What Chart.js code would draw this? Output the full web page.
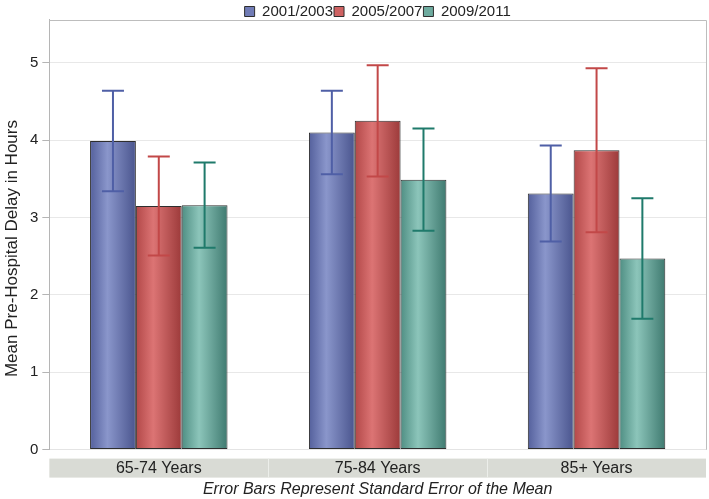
<!DOCTYPE html>
<html>
<head>
<meta charset="utf-8">
<script src="https://cdn.jsdelivr.net/npm/chart.js@4"></script>
<style>
  body { margin: 0; background: #fff; }
  canvas { display: block; }
</style>
</head>
<body>
<canvas id="delayChart" width="709" height="499"></canvas>
<script>
// Data
const categories = ["65-74 Years", "75-84 Years", "85+ Years"];
const periods = ["2001/2003", "2005/2007", "2009/2011"];
const mean2001 = [3.99, 4.10, 3.31];
const mean2005 = [3.15, 4.25, 3.87];
const mean2009 = [3.16, 3.49, 2.47];
const se2001 = [0.65, 0.54, 0.62];
const se2005 = [0.64, 0.72, 1.06];
const se2009 = [0.55, 0.66, 0.78];
const yTicks = [0, 1, 2, 3, 4, 5];
const yTitle = "Mean Pre-Hospital Delay in Hours";

const FONT = "'Liberation Sans', Arial, sans-serif";

// colours: mid, gradient stops, error bar
const styles = [
    { mid: "#717cb6", stops: ["#54609c", "#8a96cb", "#4a558e"], err: "#4f5fa6" },
    { mid: "#cf6262", stops: ["#b24848", "#dc7474", "#9c3a3a"], err: "#c24848" },
    { mid: "#6eab9f", stops: ["#4f8e83", "#8cc5ba", "#3f7a70"], err: "#1f7a6b" }
];
const errors = [se2001, se2005, se2009];

// shaded bars: gradient across each bar
const shadePlugin = {
    id: "shade",
    beforeDatasetsDraw(chart) {
        const ctx = chart.ctx;
        chart.data.datasets.forEach((ds, i) => {
            const meta = chart.getDatasetMeta(i);
            const st = styles[i];
            meta.data.forEach(el => {
                const left = el.x - el.width / 2;
                const g = ctx.createLinearGradient(left, 0, left + el.width, 0);
                g.addColorStop(0, st.stops[0]);
                g.addColorStop(0.38, st.stops[1]);
                g.addColorStop(1, st.stops[2]);
                el.options = Object.assign({}, el.options, { backgroundColor: g });
            });
        });
    }
};

// error bars, frame, category band and y title
const BAND_GAP = 9, BAND_H = 19;
const extrasPlugin = {
    id: "extras",
    beforeDraw(chart) {
        const { ctx, chartArea, scales } = chart;
        const x = scales.x;
        const top = chartArea.bottom + BAND_GAP;
        ctx.save();
        ctx.fillStyle = "#d9dbd5";
        ctx.fillRect(x.left, top, x.right - x.left, BAND_H);
        ctx.strokeStyle = "#eceeea";
        ctx.lineWidth = 1;
        const w = (x.right - x.left) / categories.length;
        for (let i = 1; i < categories.length; i++) {
            const px = Math.round(x.left + w * i) + 0.5;
            ctx.beginPath();
            ctx.moveTo(px, top);
            ctx.lineTo(px, top + BAND_H);
            ctx.stroke();
        }
        ctx.restore();
    },
    afterDatasetsDraw(chart) {
        const { ctx, chartArea, scales } = chart;
        const y = scales.y;
        ctx.save();
        chart.data.datasets.forEach((ds, i) => {
            const meta = chart.getDatasetMeta(i);
            ctx.strokeStyle = styles[i].err;
            ctx.lineWidth = 2;
            meta.data.forEach((el, j) => {
                const v = ds.data[j];
                const e = errors[i][j];
                const yHi = y.getPixelForValue(v + e);
                const yLo = y.getPixelForValue(v - e);
                ctx.beginPath();
                ctx.moveTo(el.x, yHi);
                ctx.lineTo(el.x, yLo);
                ctx.moveTo(el.x - 11, yHi);
                ctx.lineTo(el.x + 11, yHi);
                ctx.moveTo(el.x - 11, yLo);
                ctx.lineTo(el.x + 11, yLo);
                ctx.stroke();
            });
        });
        // frame top and right
        ctx.strokeStyle = "#bdbdbd";
        ctx.lineWidth = 1;
        ctx.beginPath();
        ctx.moveTo(chartArea.left, Math.round(chartArea.top) + 0.5);
        ctx.lineTo(Math.round(chartArea.right) + 0.5, Math.round(chartArea.top) + 0.5);
        ctx.lineTo(Math.round(chartArea.right) + 0.5, chartArea.bottom);
        ctx.stroke();
        ctx.restore();
    },
    afterDraw(chart) {
        // y title centred on plot frame incl. the category band
        const { ctx, chartArea } = chart;
        const cy = (chartArea.top + chartArea.bottom + BAND_GAP + BAND_H) / 2;
        ctx.save();
        ctx.translate(12, cy);
        ctx.rotate(-Math.PI / 2);
        ctx.font = "17px " + FONT;
        ctx.fillStyle = "#222";
        ctx.textAlign = "center";
        ctx.textBaseline = "middle";
        ctx.fillText(yTitle, 0, 0);
        ctx.restore();
    }
};

const means = [mean2001, mean2005, mean2009];

new Chart(document.getElementById("delayChart"), {
    type: "bar",
    data: {
        labels: categories,
        datasets: periods.map((p, i) => ({
            label: p,
            data: means[i],
            backgroundColor: styles[i].mid,
            borderColor: "#2e2e2e",
            borderWidth: 1,
            borderSkipped: false,
            categoryPercentage: 0.628,
            barPercentage: 1.0
        }))
    },
    options: {
        responsive: false,
        animation: false,
        layout: { padding: { left: 26, right: 3, top: 3, bottom: 0 } },
        plugins: {
            legend: {
                position: "top",
                fullSize: false,
                maxHeight: 16.5,
                labels: {
                    boxWidth: 10,
                    boxHeight: 10,
                    padding: 1,
                    color: "#222",
                    font: { family: FONT, size: 15, lineHeight: 1 }
                }
            },
            tooltip: { enabled: false }
        },
        scales: {
            x: {
                grid: { display: false, drawTicks: false },
                border: { display: true, color: "#e4e4e4" },
                ticks: {
                    color: "#222",
                    padding: 9,
                    font: { family: FONT, size: 16 }
                },
                title: {
                    display: true,
                    text: "Error Bars Represent Standard Error of the Mean",
                    color: "#222",
                    padding: { top: -7, bottom: 0 },
                    font: { family: FONT, size: 16, style: "italic" }
                }
            },
            y: {
                min: 0,
                max: 5.56,
                afterBuildTicks: axis => { axis.ticks = yTicks.map(v => ({ value: v })); },
                grid: { color: "#e8e8e8", tickLength: 7, tickColor: "#b5b5b5" },
                border: { color: "#b5b5b5" },
                ticks: {
                    color: "#222",
                    padding: 4,
                    font: { family: FONT, size: 15, lineHeight: 0.2 }
                }
            }
        }
    },
    plugins: [shadePlugin, extrasPlugin]
});
</script>
</body>
</html>
